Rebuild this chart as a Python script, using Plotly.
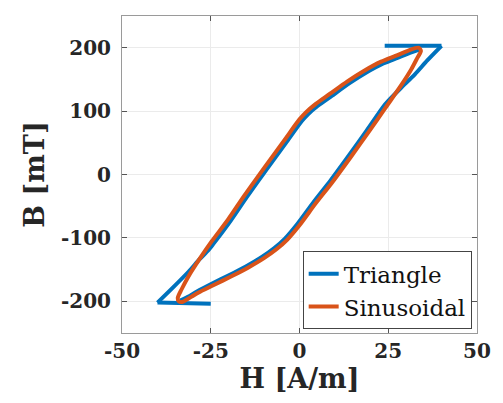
import plotly.graph_objects as go

# ---- data (H in A/m, B in mT) ----
# Sinusoidal excitation loop (upper descending branch, then lower ascending branch)
sin_H = [33.5, 30.5, 27.0, 23.0, 18.0, 13.5, 8.5, 4.5, 1.8, 0.0, -4.4, -10.0, -15.5, -20.0, -24.8, -28.0, -31.2, -33.2, -34.3, -34.0,
         -33.0, -30.5, -28.4, -24.0, -19.3, -14.5, -10.0, -6.5, -3.5, 0.0, 4.5, 9.4, 14.5, 19.6, 24.2, 28.8, 31.5, 33.2, 34.2, 33.5]
sin_B = [200, 195, 187, 178, 163, 147, 127, 111, 98, 87, 53, 10, -33, -70, -106, -132, -160, -181, -195, -200,
         -201, -193, -186, -174, -161, -147, -132, -118, -103, -80, -46, -11, 28, 68, 105, 142, 166, 184, 195, 200]

# Triangle excitation loop (segments separated by None)
tri_H = [-33.6, -31.1, -29.0, -24.6, -19.9, -15.1, -10.6, -7.1, -4.1, -0.6, 3.9, 8.8, 13.9, 19.0, 23.6, 25.0, 28.5, 32.5, 36.0, 40.0,
         None, 40.0, 24.0,
         None,
         34.0, 31.1, 27.6, 23.6, 18.6, 14.1, 9.1, 5.1, 2.4, 0.6, -3.8, -9.4, -14.9, -19.4, -24.2, -25.6, -28.2, -31.2, -35.6, -40.0,
         None, -40.0, -25.0]
tri_B = [-199, -192, -185, -172, -159, -145, -130, -116, -101, -78, -44, -9, 30, 70, 107, 116, 136, 158, 180, 203,
         None, 203, 203,
         None,
         197, 192, 184, 175, 160, 144, 124, 108, 95, 84, 50, 7, -36, -73, -109, -119, -134, -153, -178, -202,
         None, -202, -204]

x_ticks = [-50, -25, 0, 25, 50]
x_tick_text = ["-50", "-25", "0", "25", "50"]
y_ticks = [-200, -100, 0, 100, 200]
y_tick_text = ["-200", "-100", "0", "100", "200"]

BLUE = "#0072BD"
ORANGE = "#D95319"
TXT = "#262626"

fig = go.Figure()
fig.add_trace(go.Scatter(x=tri_H, y=tri_B, mode="lines", name="Triangle",
                         line=dict(color=BLUE, width=4, shape="spline", smoothing=0.6),
                         connectgaps=False))
fig.add_trace(go.Scatter(x=sin_H, y=sin_B, mode="lines", name="Sinusoidal",
                         line=dict(color=ORANGE, width=4, shape="spline", smoothing=0.8)))

axis_common = dict(
    showgrid=True, gridcolor="#ebebeb", gridwidth=1,
    zeroline=False, showline=True, linecolor="#9a9a9a", linewidth=1, mirror="ticks",
    ticks="inside", ticklen=5, tickcolor="#555555",
    tickfont=dict(family="DejaVu Serif", size=20, weight="bold", color=TXT),
)

fig.update_layout(
    width=503, height=403,
    margin=dict(l=122, r=21, t=16, b=70),
    paper_bgcolor="white", plot_bgcolor="white",
    showlegend=True,
    legend=dict(x=0.985, y=0.012, xanchor="right", yanchor="bottom",
                bgcolor="white", bordercolor="#444444", borderwidth=1,
                font=dict(family="DejaVu Serif", size=23, color="#111111"),
                tracegroupgap=0, itemwidth=30),
    xaxis=dict(range=[-50, 50], tickvals=x_ticks, ticktext=x_tick_text,
               title=dict(text="H [A/m]", standoff=4,
                          font=dict(family="DejaVu Serif", size=27, weight="bold", color=TXT)),
               **axis_common),
    yaxis=dict(range=[-250, 250], tickvals=y_ticks, ticktext=y_tick_text,
               ticklabelstandoff=6,
               title=dict(text="B [mT]", standoff=8,
                          font=dict(family="DejaVu Serif", size=27, weight="bold", color=TXT)),
               **axis_common),
)

fig.write_html("out.html")
